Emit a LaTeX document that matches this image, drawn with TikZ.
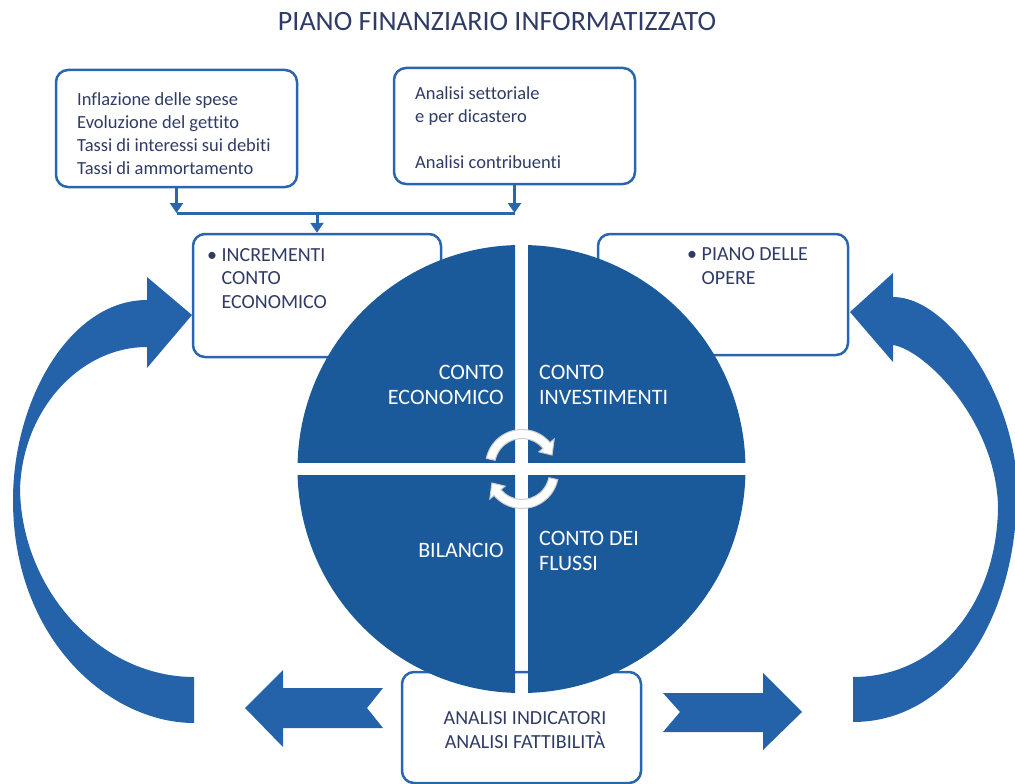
\documentclass[tikz,border=0pt]{standalone}
\usepackage{fontspec}
\setmainfont[Ligatures=NoCommon]{Carlito}
\usetikzlibrary{arrows.meta}
\definecolor{diskblue}{HTML}{1A5A9B}
\definecolor{arrowblue}{HTML}{2462AA}
\definecolor{boxblue}{HTML}{2A66AE}
\definecolor{inkblue}{HTML}{2F3B66}
\begin{document}
\begin{tikzpicture}[x=1pt, y=-1pt,
    box/.style={draw=boxblue, line width=2.5pt, rounded corners=12pt, inner sep=0pt},
    txt/.style={text=inkblue, inner sep=0pt, align=left, font=\fontsize{18.5}{23}\selectfont},
    captxt/.style={text=inkblue, inner sep=0pt, align=left, font=\fontsize{20}{23.5}\selectfont},
    intxt/.style={text=white, inner sep=0pt, font=\fontsize{22}{25}\selectfont},
    conn/.style={draw=boxblue, line width=3pt},
    arrowend/.style={-{Triangle[width=13pt,length=10pt]}},
    discfill/.style={fill=diskblue},
    bigarrow/.style={fill=arrowblue},
    whitearc/.style={fill=white, draw=gray!40, line width=1pt}]
    \useasboundingbox (0,0) rectangle (1015,784);

    \node[text=inkblue, font=\fontsize{28}{32}\selectfont] (title) at (497,22) {PIANO FINANZIARIO INFORMATIZZATO};

    \node[box, minimum width=241pt, minimum height=117pt] (fattori) at (176.5,128.5) {};
    \node[box, minimum width=241pt, minimum height=116pt] (settori) at (514.5,126) {};
    \node[box, minimum width=248pt, minimum height=123pt] (incrementi) at (317,295.5) {};
    \node[box, minimum width=250pt, minimum height=121pt] (opere) at (723,294.5) {};
    \node[box, minimum width=239pt, minimum height=111pt] (indicatori) at (521.5,727.5) {};

    \node[txt, anchor=west] (fattoritxt) at (77,134) {Inflazione delle spese\\Evoluzione del gettito\\Tassi di interessi sui debiti\\Tassi di ammortamento};
    \node[txt, anchor=west] (settoritxt) at (415,127.5) {Analisi settoriale\\e per dicastero\\[23pt]Analisi contribuenti};
    \node[captxt, anchor=west] (incrementitxt) at (207,278.5) {• INCREMENTI\\\hphantom{• }CONTO\\\hphantom{• }ECONOMICO};
    \node[captxt, anchor=west] (operetxt) at (687,266) {• PIANO DELLE\\\hphantom{• }OPERE};

    \coordinate (jl) at (176.5,213);
    \coordinate (jr) at (514.5,213);
    \coordinate (jm) at (317,213);
    \draw[conn, arrowend] (fattori) -- (jl);
    \draw[conn, arrowend] (settori) -- (jr);
    \draw[conn] (jl) -- (jr);
    \draw[conn, arrowend] (jm) -- (incrementi);

    \begin{scope}
        \clip (290,230) rectangle (515,462.5);
        \fill[discfill] (521.5,469) circle[radius=224];
    \end{scope}
    \begin{scope}
        \clip (528,230) rectangle (760,462.5);
        \fill[discfill] (521.5,469) circle[radius=224];
    \end{scope}
    \begin{scope}
        \clip (290,475.5) rectangle (515,700);
        \fill[discfill] (521.5,469) circle[radius=224];
    \end{scope}
    \begin{scope}
        \clip (528,475.5) rectangle (760,700);
        \fill[discfill] (521.5,469) circle[radius=224];
    \end{scope}

    \node[intxt, align=right, anchor=east] (economico) at (504,384.5) {CONTO\\ECONOMICO};
    \node[intxt, align=left, anchor=west] (investimenti) at (539,384.5) {CONTO\\INVESTIMENTI};
    \node[intxt, anchor=east] (bilancio) at (504,550) {BILANCIO};
    \node[intxt, align=left, anchor=west] (flussi) at (539,550.5) {CONTO DEI\\FLUSSI};

    \path[whitearc] ([shift={(522,466)}]-168:36.5) arc[start angle=-168, end angle=-40, radius=36.5]
        -- ([shift={(522,466)}]-40:42) -- ([shift={(522,466)}]-20:32) -- ([shift={(522,466)}]-40:22)
        -- ([shift={(522,466)}]-40:27.5) arc[start angle=-40, end angle=-168, radius=27.5] -- cycle;
    \path[whitearc] ([shift={(522,472)}]12:36.5) arc[start angle=12, end angle=140, radius=36.5]
        -- ([shift={(522,472)}]140:42) -- ([shift={(522,472)}]160:32) -- ([shift={(522,472)}]140:22)
        -- ([shift={(522,472)}]140:27.5) arc[start angle=140, end angle=12, radius=27.5] -- cycle;

    \node[captxt, align=center] (indicatoritxt) at (525,730) {ANALISI INDICATORI\\ANALISI FATTIBILITÀ};

    \fill[bigarrow] (194,723) .. controls (110,723) and (13,640) .. (13,500)
        .. controls (13,400) and (70,300) .. (147,300) -- (147,277) -- (192,315) -- (147,368) -- (147,347)
        .. controls (80,347) and (22,410) .. (20,490) .. controls (22,590) and (100,677) .. (194,677) -- cycle;
    \fill[bigarrow] (853,722) .. controls (950,722) and (1017,620) .. (1017,490)
        .. controls (1017,400) and (950,297) .. (893,297) -- (893,273) -- (850,312) -- (893,362) -- (893,345)
        .. controls (925,350) and (995,420) .. (998,505) .. controls (998,600) and (940,677) .. (853,677) -- cycle;

    \fill[bigarrow] (245,708) -- (283,670) -- (283,688) -- (383,688) -- (367,708) -- (383,728) -- (283,728) -- (283,747) -- cycle;
    \fill[bigarrow] (802,712) -- (763,673) -- (763,693) -- (663,693) -- (680,712) -- (663,732) -- (763,732) -- (763,750) -- cycle;
\end{tikzpicture}
\end{document}
